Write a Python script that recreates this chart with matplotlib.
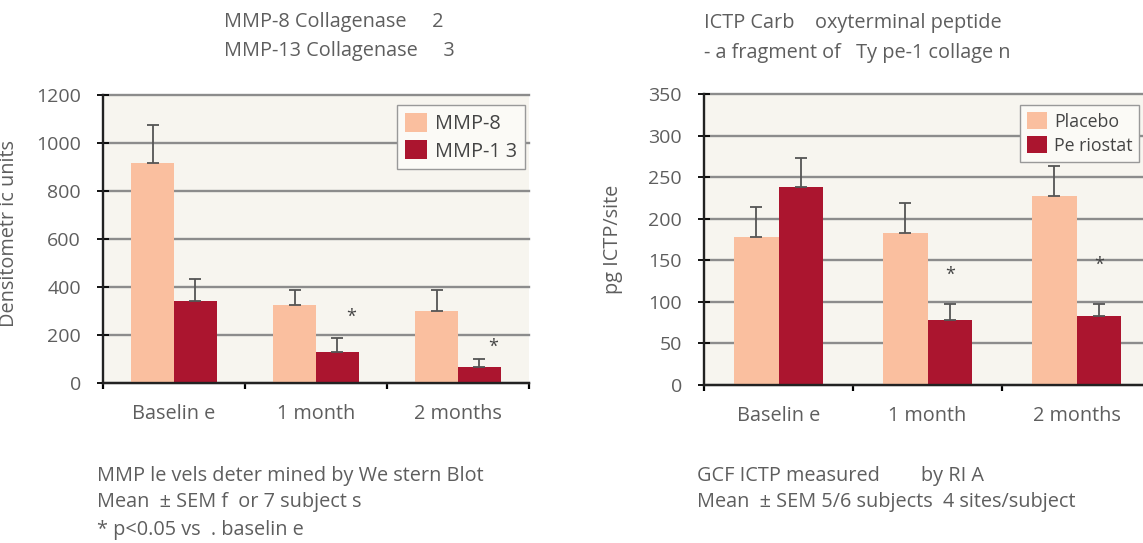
import numpy as np
import matplotlib as mpl

mpl.use("Agg")
import matplotlib.pyplot as plt

W, H = 1143, 543
TEXT_COLOR = "#5e5e5e"
LIGHT = "#fabf9f"
DARK = "#ab152f"
PLOT_BG = "#f7f5ef"
GRID = "#8c8c8c"
FS = 14.3
TICK_FS = 14

categories = ["Baselin e", "1 month", "2 months"]

# left chart: MMP levels (densitometric units)
mmp8 = [918, 327, 302]
mmp8_err = [158, 62, 87]
mmp13 = [343, 128, 66]
mmp13_err = [91, 58, 33]
mmp13_star = [None, 277, 149]
left_ticks = [0, 200, 400, 600, 800, 1000, 1200]

# right chart: ICTP (pg/site)
placebo = [178, 183, 227]
placebo_err = [36, 36, 37]
periostat = [238, 78, 83]
periostat_err = [35, 19, 14]
periostat_star = [None, 132, 144]
right_ticks = [0, 50, 100, 150, 200, 250, 300, 350]

plt.rcParams["font.family"] = ["Open Sans", "DejaVu Sans"]
plt.rcParams["font.size"] = FS


def px_box(x0, y_top, x1, y_bot):
    """Pixel box -> figure fraction rect."""
    return [x0 / W, 1 - y_bot / H, (x1 - x0) / W, (y_bot - y_top) / H]


def ftext(fig, x, y, s, **kw):
    fig.text(x / W, 1 - y / H, s, color=TEXT_COLOR, va="center", ha="left",
             fontsize=FS, **kw)


def bar_panel(ax, a, a_err, b, b_err, stars, star_dx, ticks, ymax, ylabel, labels):
    x = np.arange(len(categories))
    bw = 0.3
    ax.set_facecolor(PLOT_BG)
    ax.bar(x - bw / 2, a, bw, color=LIGHT, zorder=3, label=labels[0])
    ax.bar(x + bw / 2, b, bw, color=DARK, zorder=3, label=labels[1])
    ekw = dict(fmt="none", ecolor="#555555", elinewidth=1.3, capsize=4,
               capthick=1.3, zorder=4)
    ax.errorbar(x - bw / 2, a, yerr=[np.zeros(len(a)), a_err], **ekw)
    ax.errorbar(x + bw / 2, b, yerr=[np.zeros(len(b)), b_err], **ekw)
    for i, s in enumerate(stars):
        if s is not None:
            ax.text(x[i] + bw / 2 + star_dx, s, "*", ha="center", va="center",
                    fontsize=13, color="#444444", zorder=5)

    ax.set_xlim(-0.5, len(categories) - 0.5)
    ax.set_ylim(0, ymax)
    ax.set_yticks(ticks)
    ax.set_yticklabels([str(t) for t in ticks], color=TEXT_COLOR, fontsize=TICK_FS)
    ax.set_xticks(x)
    ax.set_xticklabels(categories, color=TEXT_COLOR, fontsize=FS)
    ax.set_xticks(np.arange(len(categories) + 1) - 0.5, minor=True)
    ax.tick_params(axis="x", which="major", length=0, pad=15)
    ax.tick_params(axis="x", which="minor", length=4, width=1.6, direction="out")
    ax.tick_params(axis="y", length=8, width=1.3, direction="inout", pad=12)
    ax.grid(axis="y", color=GRID, lw=1.7, zorder=1)
    for gl in ax.get_ygridlines():
        gl.set_clip_on(False)
    for side in ("top", "right"):
        ax.spines[side].set_visible(False)
    for side in ("left", "bottom"):
        ax.spines[side].set_linewidth(1.7)
        ax.spines[side].set_color("#222222")
        ax.spines[side].set_zorder(6)
    ax.set_ylabel(ylabel, color=TEXT_COLOR, fontsize=FS)


def add_legend(ax, loc, anchor, fontsize):
    ax.legend(loc=loc, bbox_to_anchor=anchor, frameon=True, fancybox=False,
              edgecolor="#999999", facecolor="#fbfaf6", framealpha=1,
              handlelength=1.1, handleheight=1.1, handletextpad=0.4,
              labelcolor="#444444", borderpad=0.4, labelspacing=0.3,
              borderaxespad=0, fontsize=fontsize)


fig = plt.figure(figsize=(W / 100, H / 100), dpi=100)

ax1 = fig.add_axes(px_box(103, 95, 529, 383))
bar_panel(ax1, mmp8, mmp8_err, mmp13, mmp13_err, mmp13_star, 0.1,
          left_ticks, 1200, "Densitometr ic units", ["MMP-8", "MMP-1 3"])
ax1.yaxis.set_label_coords(-0.197, 0.52)
add_legend(ax1, "upper right", (0.99, 0.965), FS)

ax2 = fig.add_axes(px_box(704, 94, 1151, 385))
bar_panel(ax2, placebo, placebo_err, periostat, periostat_err, periostat_star, 0.0,
          right_ticks, 350, "pg ICTP/site", ["Placebo", "Pe riostat"])
ax2.yaxis.set_label_coords(-0.181, 0.5)
add_legend(ax2, "upper left", (0.707, 0.962), 12.8)

# titles
ftext(fig, 224, 22, "MMP-8 Collagenase     2")
ftext(fig, 224, 51, "MMP-13 Collagenase     3")
ftext(fig, 704, 23, "ICTP Carb    oxyterminal peptide")
ftext(fig, 704, 53, "- a fragment of   Ty pe-1 collage n")

# footnotes
ftext(fig, 97, 476, "MMP le vels deter mined by We stern Blot")
ftext(fig, 97, 502, "Mean  \u00b1 SEM f  or 7 subject s")
ftext(fig, 97, 530, "* p<0.05 vs  . baselin e")
ftext(fig, 697, 476, "GCF ICTP measured        by RI A")
ftext(fig, 697, 502, "Mean  \u00b1 SEM 5/6 subjects  4 sites/subject")

fig.savefig("out.png", dpi=100)
